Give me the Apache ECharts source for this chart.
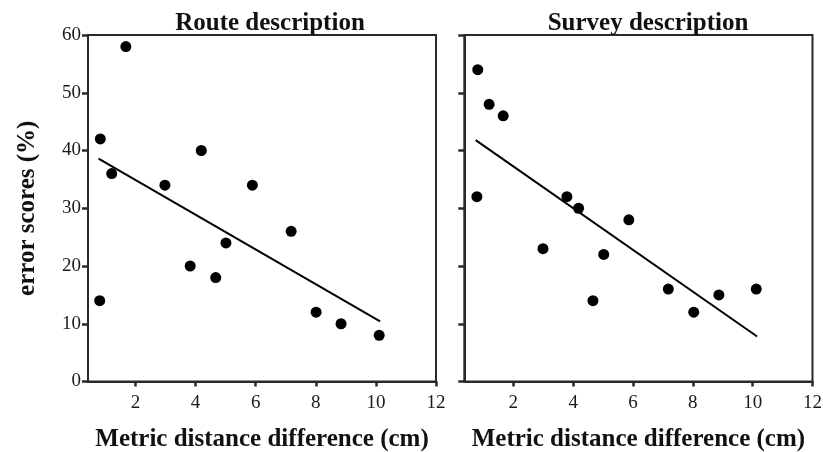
<!DOCTYPE html>
<html>
<head>
<meta charset="utf-8">
<script src="https://cdn.jsdelivr.net/npm/echarts@6/dist/echarts.min.js"></script>
<style>html,body{margin:0;padding:0;background:#fff;}#c{width:823px;height:452px;}</style>
</head>
<body>
<div id="c"></div>
<script>
var panelTitles = ['Route description', 'Survey description'];
var yAxisName = 'error scores (%)';
var xAxisName = 'Metric distance difference (cm)';
var xTicks = [2, 4, 6, 8, 10, 12];
var yTicks = [0, 10, 20, 30, 40, 50, 60];

var routeX = [0.83, 0.81, 1.68, 1.21, 2.98, 3.82, 4.19, 4.67, 5.01, 5.89, 7.18, 8.01, 8.84, 10.11];
var routeY = [42, 14, 58, 36, 34, 20, 40, 18, 24, 34, 26, 12, 10, 8];
var routeFitX = [0.77, 10.14];
var routeFitY = [38.6, 10.4];

var surveyX = [0.81, 0.78, 1.19, 1.66, 2.99, 3.79, 4.18, 4.66, 5.02, 5.86, 7.18, 8.03, 8.87, 10.12];
var surveyY = [54, 32, 48, 46, 23, 32, 30, 14, 22, 28, 16, 12, 15, 16];
var surveyFitX = [0.74, 10.15];
var surveyFitY = [41.8, 7.8];

function pairs(xs, ys) { return xs.map(function (x, i) { return [x, ys[i]]; }); }

var serif = '"Liberation Serif", "DejaVu Serif", serif';
var axisColor = '#2a2a2a';

function xAxis(gi, min) {
  return {
    type: 'value', gridIndex: gi, min: min, max: 12,
    splitLine: { show: false },
    axisLine: { show: true, onZero: false, lineStyle: { color: axisColor, width: 2 } },
    axisTick: { show: true, length: 5, lineStyle: { color: axisColor, width: 2.5 }, customValues: xTicks },
    axisLabel: { show: true, customValues: xTicks, color: '#1a1a1a', fontFamily: serif, fontSize: 19, margin: 12 },
    name: xAxisName, nameLocation: 'middle', nameGap: 46,
    nameTextStyle: { fontFamily: serif, fontWeight: 'bold', fontSize: 25, color: '#111' }
  };
}
function yAxis(gi, showLabel) {
  var a = {
    type: 'value', gridIndex: gi, min: 0, max: 60, interval: 10,
    splitLine: { show: false },
    axisLine: { show: true, onZero: false, lineStyle: { color: axisColor, width: 2 } },
    axisTick: { show: true, length: 6, lineStyle: { color: axisColor, width: 2.5 } },
    axisLabel: { show: showLabel, color: '#1a1a1a', fontFamily: serif, fontSize: 19, margin: 7 }
  };
  if (showLabel) {
    a.name = yAxisName;
    a.nameLocation = 'middle';
    a.nameRotate = 90;
    a.nameGap = 48;
    a.nameTextStyle = { fontFamily: serif, fontWeight: 'bold', fontSize: 25, color: '#111' };
  }
  return a;
}

var chart = echarts.init(document.getElementById('c'), null, { renderer: 'canvas' });
chart.setOption({
  animation: false,
  backgroundColor: '#fff',
  title: [
    { text: panelTitles[0], left: 265, top: 6, textAlign: 'center',
      textStyle: { fontFamily: serif, fontWeight: 'bold', fontSize: 25, color: '#111' } },
    { text: panelTitles[1], left: 643, top: 6, textAlign: 'center',
      textStyle: { fontFamily: serif, fontWeight: 'bold', fontSize: 25, color: '#111' } }
  ],
  grid: [
    { left: 88, top: 35, width: 348, height: 346.5, show: true, borderColor: axisColor, borderWidth: 2, backgroundColor: 'transparent', outerBoundsMode: 'none' },
    { left: 464.3, top: 35, width: 348.2, height: 346.5, show: true, borderColor: axisColor, borderWidth: 2, backgroundColor: 'transparent', outerBoundsMode: 'none' }
  ],
  xAxis: [xAxis(0, 0.42), xAxis(1, 0.36)],
  yAxis: [yAxis(0, true), yAxis(1, false)],
  series: [
    { type: 'scatter', xAxisIndex: 0, yAxisIndex: 0, data: pairs(routeX, routeY), symbolSize: 11, itemStyle: { color: '#000', opacity: 1 } },
    { type: 'line', xAxisIndex: 0, yAxisIndex: 0, data: pairs(routeFitX, routeFitY), symbol: 'none', lineStyle: { color: '#000', width: 2 } },
    { type: 'scatter', xAxisIndex: 1, yAxisIndex: 1, data: pairs(surveyX, surveyY), symbolSize: 11, itemStyle: { color: '#000', opacity: 1 } },
    { type: 'line', xAxisIndex: 1, yAxisIndex: 1, data: pairs(surveyFitX, surveyFitY), symbol: 'none', lineStyle: { color: '#000', width: 2 } }
  ]
});
</script>
</body>
</html>
